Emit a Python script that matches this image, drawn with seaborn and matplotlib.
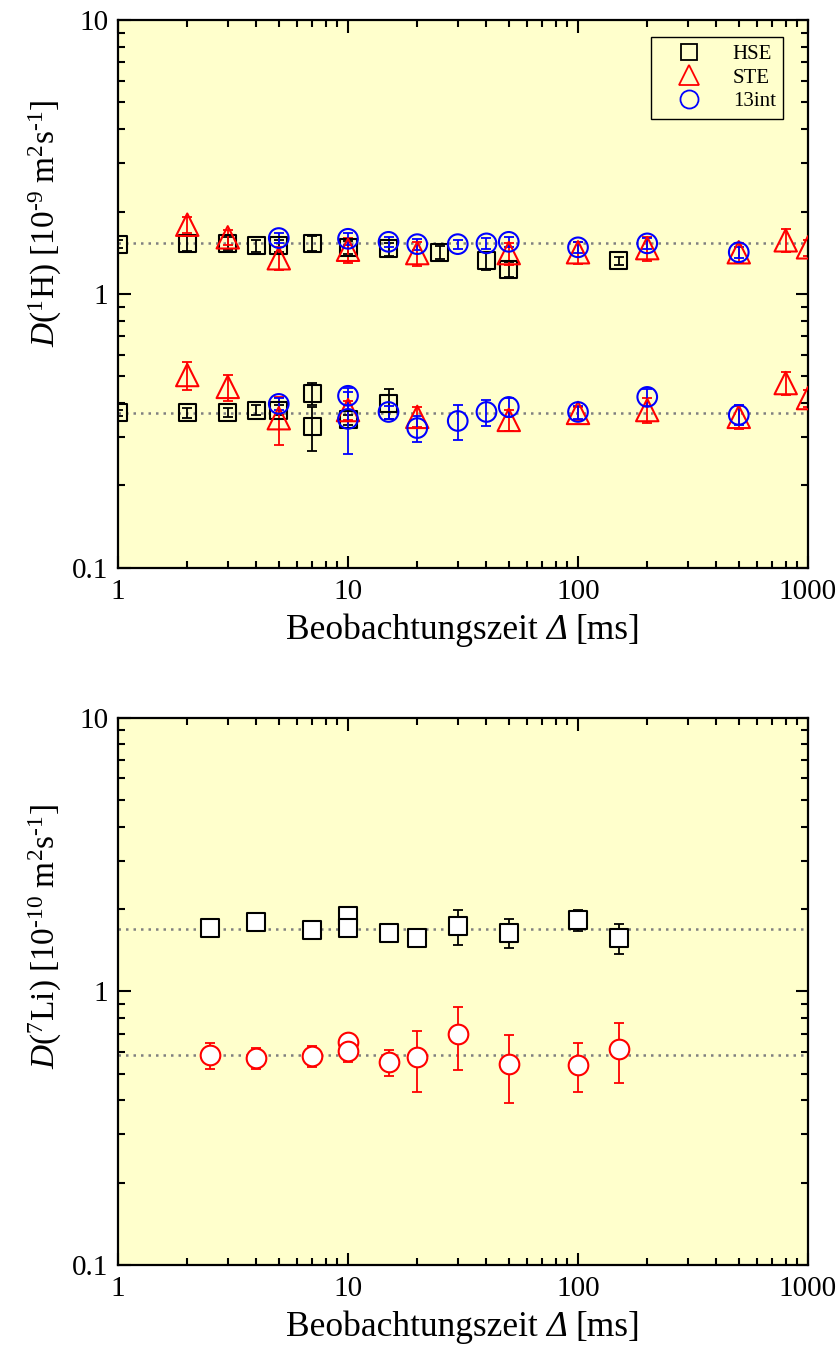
import numpy as np
import pandas as pd
import matplotlib
matplotlib.use("Agg")
import matplotlib.pyplot as plt
import seaborn as sns
from matplotlib.ticker import LogLocator, NullFormatter, FixedLocator, FixedFormatter
from matplotlib.lines import Line2D
from matplotlib.offsetbox import TextArea, HPacker, AnchoredOffsetbox

# ---------------- data: top panel (1H) ----------------
hse_up_x = [1, 2, 3, 4, 5, 7, 10, 15, 25, 40, 50, 150]
hse_up_y = [1.52, 1.53, 1.53, 1.50, 1.50, 1.53, 1.48, 1.46, 1.42, 1.32, 1.23, 1.32]
hse_up_e = [0.05, 0.10, 0.08, 0.08, 0.08, 0.10, 0.08, 0.08, 0.08, 0.10, 0.08, 0.04]

hse_lo_x = [1, 2, 3, 4, 5, 7, 7, 10, 15]
hse_lo_y = [0.368, 0.368, 0.370, 0.377, 0.377, 0.435, 0.327, 0.347, 0.400]
hse_lo_e = [0.010, 0.015, 0.015, 0.015, 0.015, 0.040, 0.060, 0.015, 0.050]

ste_up_x = [2, 3, 5, 10, 20, 50, 100, 200, 500, 800, 1000]
ste_up_y = [1.79, 1.61, 1.35, 1.45, 1.41, 1.41, 1.42, 1.47, 1.42, 1.57, 1.48]
ste_up_e = [0.12, 0.10, 0.13, 0.15, 0.14, 0.13, 0.13, 0.15, 0.12, 0.15, 0.10]

ste_lo_x = [2, 3, 5, 10, 20, 50, 100, 200, 500, 800, 1000]
ste_lo_y = [0.506, 0.458, 0.352, 0.377, 0.356, 0.347, 0.368, 0.377, 0.356, 0.473, 0.417]
ste_lo_e = [0.060, 0.050, 0.070, 0.030, 0.030, 0.030, 0.020, 0.040, 0.035, 0.045, 0.030]

int_up_x = [5, 10, 15, 20, 30, 40, 50, 100, 200, 500]
int_up_y = [1.60, 1.59, 1.55, 1.52, 1.52, 1.53, 1.55, 1.48, 1.53, 1.42]
int_up_e = [0.07, 0.08, 0.07, 0.07, 0.06, 0.07, 0.07, 0.07, 0.07, 0.07]

int_lo_x = [5, 10, 10, 15, 20, 30, 40, 50, 100, 200, 500]
int_lo_y = [0.397, 0.425, 0.350, 0.371, 0.324, 0.344, 0.371, 0.387, 0.371, 0.421, 0.362]
int_lo_e = [0.020, 0.030, 0.090, 0.020, 0.035, 0.050, 0.040, 0.030, 0.020, 0.030, 0.030]

ref_top = [1.535, 0.369]

# ---------------- data: bottom panel (7Li) ----------------
li_hse_x = [2.5, 4, 7, 10, 10, 15, 20, 30, 50, 100, 150]
li_hse_y = [1.71, 1.80, 1.67, 1.89, 1.71, 1.63, 1.57, 1.73, 1.64, 1.82, 1.57]
li_hse_e = [0.05, 0.03, 0.05, 0.08, 0.05, 0.07, 0.10, 0.25, 0.20, 0.16, 0.20]

li_ste_x = [2.5, 4, 7, 10, 10, 15, 20, 30, 50, 100, 150]
li_ste_y = [0.584, 0.569, 0.580, 0.652, 0.604, 0.551, 0.574, 0.697, 0.542, 0.537, 0.614]
li_ste_e = [0.065, 0.050, 0.050, 0.030, 0.050, 0.060, 0.145, 0.180, 0.150, 0.110, 0.150]

ref_bot = [1.69, 0.585]

x_ticks = [1, 10, 100, 1000]
x_labels = ["1", "10", "100", "1000"]
y_ticks = [0.1, 1, 10]
y_labels = ["0.1", "1", "10"]
legend_labels = ['HSE', 'STE', '13int']
xlabel_parts = ["Beobachtungszeit", "Δ", "[ms]"]

# ---------------- style ----------------
sns.set_style("ticks")
plt.rcParams['font.family'] = ['Liberation Serif', 'DejaVu Serif']
plt.rcParams['mathtext.fontset'] = 'custom'
plt.rcParams['mathtext.rm'] = 'Liberation Serif'
plt.rcParams['mathtext.it'] = 'Liberation Serif:italic'
plt.rcParams['mathtext.bf'] = 'Liberation Serif:bold'
plt.rcParams['text.color'] = 'black'
plt.rcParams['axes.labelcolor'] = 'black'
plt.rcParams['xtick.color'] = 'black'
plt.rcParams['ytick.color'] = 'black'

BG = '#FFFFCC'
fig = plt.figure(figsize=(8.4, 13.51), dpi=100)
ax1 = fig.add_axes([0.1405, 0.5796, 0.8214, 0.4056])
ax2 = fig.add_axes([0.1405, 0.0637, 0.8214, 0.4050])


def df(x, y):
    return pd.DataFrame({'x': x, 'y': y})


def series(ax, x, y, e, color, marker, size, face):
    ax.errorbar(x, y, yerr=e, fmt='none', ecolor=color, elinewidth=1.3,
                capsize=3.6, capthick=1.3, zorder=2)
    sns.scatterplot(data=df(x, y), x='x', y='y', ax=ax, marker=marker, s=size,
                    facecolor=face, edgecolor=color, linewidth=1.5, zorder=3,
                    legend=False)


def style_axes(ax, ylabel, ylab_pos):
    ax.set_facecolor(BG)
    ax.set_xscale('log')
    ax.set_yscale('log')
    ax.set_xlim(1, 1000)
    ax.set_ylim(0.1, 10)
    ax.xaxis.set_major_locator(FixedLocator(x_ticks))
    ax.xaxis.set_major_formatter(FixedFormatter(x_labels))
    ax.yaxis.set_major_locator(FixedLocator(y_ticks))
    ax.yaxis.set_major_formatter(FixedFormatter(y_labels))
    ax.xaxis.set_minor_locator(LogLocator(base=10, subs=np.arange(2, 10)))
    ax.yaxis.set_minor_locator(LogLocator(base=10, subs=np.arange(2, 10)))
    ax.xaxis.set_minor_formatter(NullFormatter())
    ax.yaxis.set_minor_formatter(NullFormatter())
    ax.tick_params(which='both', direction='in', top=True, right=True,
                   width=1.5, colors='black', labelcolor='black')
    ax.tick_params(which='major', length=9, labelsize=21)
    ax.tick_params(axis='x', which='major', pad=8)
    ax.tick_params(axis='y', which='major', pad=7)
    ax.tick_params(which='minor', length=5)
    for sp in ax.spines.values():
        sp.set_linewidth(1.6)
        sp.set_color('black')
    ax.set_xlabel('')
    # x label with italic Delta
    tp = dict(size=25.5, color='black')
    parts = [TextArea(xlabel_parts[0], textprops=tp),
             TextArea(xlabel_parts[1], textprops=dict(tp, style='italic')),
             TextArea(xlabel_parts[2], textprops=tp)]
    box = HPacker(children=parts, align='baseline', pad=0, sep=6)
    anc = AnchoredOffsetbox(loc='upper center', child=box, pad=0, borderpad=0,
                            frameon=False, bbox_to_anchor=(0.5, -0.083),
                            bbox_transform=ax.transAxes)
    ax.add_artist(anc)
    ax.set_ylabel(ylabel, fontsize=24, color='black')
    ax.yaxis.set_label_coords(-0.078, ylab_pos)


# top panel
for r in ref_top:
    ax1.axhline(r, color='#808080', linestyle=(0, (1, 2)), linewidth=1.8, zorder=1)
series(ax1, hse_up_x, hse_up_y, hse_up_e, 'black', 's', 150, 'none')
series(ax1, hse_lo_x, hse_lo_y, hse_lo_e, 'black', 's', 150, 'none')
series(ax1, ste_up_x, ste_up_y, ste_up_e, 'red', '^', 260, 'none')
series(ax1, ste_lo_x, ste_lo_y, ste_lo_e, 'red', '^', 260, 'none')
series(ax1, int_up_x, int_up_y, int_up_e, 'blue', 'o', 200, 'none')
series(ax1, int_lo_x, int_lo_y, int_lo_e, 'blue', 'o', 200, 'none')
style_axes(ax1, r'$\mathit{D}(^{1}\mathrm{H})\ [10^{\text{-}9}\ \mathrm{m}^{2}\mathrm{s}^{\text{-}1}]$', 0.63)

handles = [Line2D([], [], linestyle='none', marker='s', markersize=12, markerfacecolor='none',
                  markeredgecolor='black', markeredgewidth=1.3),
           Line2D([], [], linestyle='none', marker='^', markersize=15, markerfacecolor='none',
                  markeredgecolor='red', markeredgewidth=1.3),
           Line2D([], [], linestyle='none', marker='o', markersize=13, markerfacecolor='none',
                  markeredgecolor='blue', markeredgewidth=1.3)]
leg = ax1.legend(handles, legend_labels, loc='upper right',
                 bbox_to_anchor=(0.964, 0.969), borderaxespad=0, fontsize=15,
                 frameon=True, fancybox=False, edgecolor='black', facecolor=BG,
                 framealpha=1, handletextpad=0.6, borderpad=0.35, labelspacing=0.2,
                 handlelength=3.0)
leg.get_frame().set_linewidth(1.0)
for t in leg.get_texts():
    t.set_color('black')

# bottom panel
for r in ref_bot:
    ax2.axhline(r, color='#808080', linestyle=(0, (1, 2)), linewidth=1.8, zorder=1)
series(ax2, li_hse_x, li_hse_y, li_hse_e, 'black', 's', 150, 'white')
series(ax2, li_ste_x, li_ste_y, li_ste_e, 'red', 'o', 200, 'white')
style_axes(ax2, r'$\mathit{D}(^{7}\mathrm{Li})\ [10^{\text{-}10}\ \mathrm{m}^{2}\mathrm{s}^{\text{-}1}]$', 0.60)

fig.savefig('out.png', dpi=100, facecolor='white')
